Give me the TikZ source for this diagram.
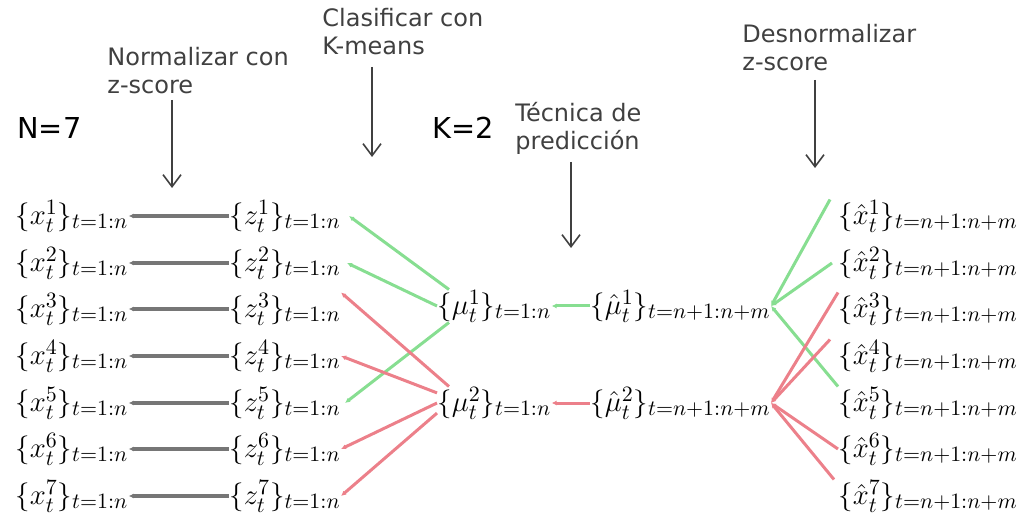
\documentclass[tikz,border=0pt]{standalone}
\usepackage{fontspec}
\setsansfont{DejaVu Sans}
\usepackage{amsmath}
\usetikzlibrary{arrows.meta, positioning}
\definecolor{grupoA}{RGB}{135,222,145}
\definecolor{grupoB}{RGB}{236,128,138}
\definecolor{lineagris}{RGB}{118,118,118}

\begin{document}
\begin{tikzpicture}[x=0.5pt, y=-0.5pt,
    serie/.style={inner sep=0pt, anchor=west, font=\fontsize{15.5}{19}\selectfont},
    paso/.style={inner sep=0pt, anchor=west, align=left,
                 font=\sffamily\large, text=black!75},
    flecha/.style={->, line width=0.8pt, black!75,
                   >={Straight Barb[length=6pt, width=9pt]}},
    norma/.style={line width=2pt, lineagris, {Latex[length=2.5pt, width=2.5pt]}-},
    clusA/.style={line width=1.5pt, grupoA, {Latex[length=2.5pt, width=2.5pt]}-},
    clusB/.style={line width=1.5pt, grupoB, {Latex[length=2.5pt, width=2.5pt]}-}]
  \useasboundingbox (0,0) rectangle (1023,518);

  % Original series
  \node[serie] (x1) at (15,216) {$\{x_t^1\}_{t=1:n}$};
  \node[serie] (x2) at (15,263) {$\{x_t^2\}_{t=1:n}$};
  \node[serie] (x3) at (15,309) {$\{x_t^3\}_{t=1:n}$};
  \node[serie] (x4) at (15,356) {$\{x_t^4\}_{t=1:n}$};
  \node[serie] (x5) at (15,403) {$\{x_t^5\}_{t=1:n}$};
  \node[serie] (x6) at (15,449) {$\{x_t^6\}_{t=1:n}$};
  \node[serie] (x7) at (15,496) {$\{x_t^7\}_{t=1:n}$};

  % Normalized series
  \node[serie] (z1) at (229,216) {$\{z_t^1\}_{t=1:n}$};
  \node[serie] (z2) at (229,263) {$\{z_t^2\}_{t=1:n}$};
  \node[serie] (z3) at (229,309) {$\{z_t^3\}_{t=1:n}$};
  \node[serie] (z4) at (229,356) {$\{z_t^4\}_{t=1:n}$};
  \node[serie] (z5) at (229,403) {$\{z_t^5\}_{t=1:n}$};
  \node[serie] (z6) at (229,449) {$\{z_t^6\}_{t=1:n}$};
  \node[serie] (z7) at (229,496) {$\{z_t^7\}_{t=1:n}$};

  % Centroids and their predictions
  \node[serie] (mu1) at (437,306) {$\{\mu_t^1\}_{t=1:n}$};
  \node[serie] (mu2) at (437,403) {$\{\mu_t^2\}_{t=1:n}$};
  \node[serie] (mh1) at (590,306) {$\{\hat{\mu}_t^1\}_{t=n+1:n+m}$};
  \node[serie] (mh2) at (590,403) {$\{\hat{\mu}_t^2\}_{t=n+1:n+m}$};

  % Predicted series
  \node[serie] (xh1) at (838,216) {$\{\hat{x}_t^1\}_{t=n+1:n+m}$};
  \node[serie] (xh2) at (838,263) {$\{\hat{x}_t^2\}_{t=n+1:n+m}$};
  \node[serie] (xh3) at (838,309) {$\{\hat{x}_t^3\}_{t=n+1:n+m}$};
  \node[serie] (xh4) at (838,356) {$\{\hat{x}_t^4\}_{t=n+1:n+m}$};
  \node[serie] (xh5) at (838,403) {$\{\hat{x}_t^5\}_{t=n+1:n+m}$};
  \node[serie] (xh6) at (838,449) {$\{\hat{x}_t^6\}_{t=n+1:n+m}$};
  \node[serie] (xh7) at (838,496) {$\{\hat{x}_t^7\}_{t=n+1:n+m}$};

  % x <-- z
  \draw[norma] (x1.east) -- (z1.west);
  \draw[norma] (x2.east) -- (z2.west);
  \draw[norma] (x3.east) -- (z3.west);
  \draw[norma] (x4.east) -- (z4.west);
  \draw[norma] (x5.east) -- (z5.west);
  \draw[norma] (x6.east) -- (z6.west);
  \draw[norma] (x7.east) -- (z7.west);

  % z <-- mu (cluster 1)
  \draw[clusA] ([xshift=4pt]z1.east) -- (mu1.160);
  \draw[clusA] ([xshift=3pt]z2.east) -- (mu1.west);
  \draw[clusA] ([xshift=2pt]z5.east) -- (mu1.200);

  % z <-- mu (cluster 2)
  \draw[clusB] ([xshift=0pt]z3.north east) -- (mu2.160);
  \draw[clusB] ([xshift=0pt]z4.east) -- (mu2.170);
  \draw[clusB] ([xshift=0pt]z6.east) -- (mu2.180);
  \draw[clusB] ([xshift=0pt]z7.east) -- (mu2.190);

  % mu <-- mu hat
  \draw[clusA] (mu1.east) -- (mh1.west);
  \draw[clusB] (mu2.east) -- (mh2.west);

  % mu hat <-- x hat
  \draw[clusA] (mh1.east) -- ([xshift=-4pt]xh1.north west);
  \draw[clusA] (mh1.east) -- ([xshift=-3pt]xh2.west);
  \draw[clusA] (mh1.east) -- (xh5.north west);
  \draw[clusB] (mh2.east) -- (xh3.north west);
  \draw[clusB] (mh2.east) -- ([xshift=-4pt]xh4.north west);
  \draw[clusB] (mh2.east) -- (xh6.west);
  \draw[clusB] (mh2.east) -- ([xshift=-2pt]xh7.north west);

  % Step labels
  \node[paso, text=black, font=\sffamily\Large] (nser) at (17,128) {N=7};
  \node[paso, text=black, font=\sffamily\Large] (kclu) at (432,128) {K=2};
  \node[paso] (lnorm) at (107,71) {Normalizar con\\z-score};
  \node[paso] (lclas) at (322,32) {Clasificar con\\K-means};
  \node[paso] (lpred) at (515,128) {Técnica de\\predicción};
  \node[paso] (ldesn) at (742,48) {Desnormalizar\\z-score};

  % Step arrows
  \coordinate (na) at (172,100);
  \coordinate (nb) at (172,188);
  \coordinate (ca) at (372,67);
  \coordinate (cb) at (372,157);
  \coordinate (pa) at (571,162);
  \coordinate (pb) at (571,248);
  \coordinate (da) at (815,80);
  \coordinate (db) at (815,168);
  \draw[flecha] (na) -- (nb);
  \draw[flecha] (ca) -- (cb);
  \draw[flecha] (pa) -- (pb);
  \draw[flecha] (da) -- (db);
\end{tikzpicture}
\end{document}
